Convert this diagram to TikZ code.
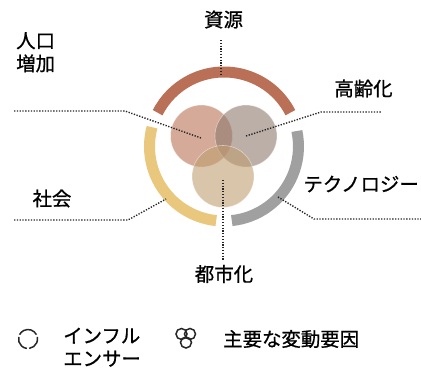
\documentclass[tikz,border=0pt]{standalone}
\usepackage{fontspec}
\newfontfamily\jp[FakeBold=0.8]{Noto Sans CJK JP}
\begin{document}
\begin{tikzpicture}[x=1bp,y=1bp,
  lbl/.style={font=\jp\fontsize{19.5}{23}\selectfont, text=black, inner sep=0pt},
  lead/.style={draw=black!85, line width=1.4bp, dash pattern=on 1.3bp off 1.5bp},
  ringarc/.style={line width=11bp},
  venn/.style={fill opacity=0.6, draw=white, draw opacity=0.5, line width=0.6bp},
  icon/.style={draw=black!85, line width=1.5bp}]
\definecolor{cTop}{RGB}{185,112,86}
\definecolor{cYel}{RGB}{233,199,125}
\definecolor{cGry}{RGB}{160,160,160}
\definecolor{cL}{RGB}{185,113,83}
\definecolor{cR}{RGB}{142,122,110}
\definecolor{cB}{RGB}{192,158,113}
\useasboundingbox (0,0) rectangle (421,369);
\coordinate (c) at (224,222.5);
% influencer arcs
\draw[ringarc, cTop] ([shift={(27:74.5)}]c) arc (27:153:74.5);
\draw[ringarc, cYel] ([shift={(165:74.5)}]c) arc (165:264:74.5);
\draw[ringarc, cGry] ([shift={(-84:74.5)}]c) arc (-84:12:74.5);
% main factor circles
\fill[venn, fill=cL] (201.5,233) circle (31);
\fill[venn, fill=cR] (246,233) circle (31);
\fill[venn, fill=cB] (223,192.5) circle (31);
% labels
\node[lbl] (shigen) at (223.5,349.5) {資源};
\node[lbl, align=left, anchor=north west] (jinko) at (16,337) {人口\\増加};
\node[lbl] (shakai) at (52,170.5) {社会};
\node[lbl] (korei) at (363.5,280.5) {高齢化};
\node[lbl, anchor=east] (tech) at (419,185) {テクノロジー};
\node[lbl] (toshi) at (224,95) {都市化};
% leader end points
\coordinate (s1) at (221,329); \coordinate (s2) at (221,294);
\coordinate (j0) at (14,258); \coordinate (j1) at (125,258); \coordinate (j2) at (201,231);
\coordinate (k0) at (14,149); \coordinate (k1) at (128,149); \coordinate (k2) at (166,170);
\coordinate (h0) at (246,233); \coordinate (h1) at (321,257); \coordinate (h2) at (381,257);
\coordinate (t0) at (278,172); \coordinate (t1) at (314,150); \coordinate (t2) at (421,150);
\coordinate (u0) at (223,189); \coordinate (u1) at (223,109);
\draw[lead] (s1) -- (s2);
\draw[lead] (j0) -- (j1) -- (j2);
\draw[lead] (k0) -- (k1) -- (k2);
\draw[lead] (h0) -- (h1) -- (h2);
\draw[lead] (t0) -- (t1) -- (t2);
\draw[lead] (u0) -- (u1);
% legend
\coordinate (ic) at (28,30);
\draw[icon] ([shift={(27:9.5)}]ic) arc (27:153:9.5);
\draw[icon] ([shift={(167:9.5)}]ic) arc (167:263:9.5);
\draw[icon] ([shift={(-83:9.5)}]ic) arc (-83:13:9.5);
\node[lbl, align=left, anchor=north west] (infl) at (63,41.5) {インフル\\エンサー};
\draw[icon] (181.5,35) circle (5.5);
\draw[icon] (190,35) circle (5.5);
\draw[icon] (186,26.5) circle (5.5);
\node[lbl, anchor=west] (shuyo) at (223,30) {主要な変動要因};
\end{tikzpicture}
\end{document}
